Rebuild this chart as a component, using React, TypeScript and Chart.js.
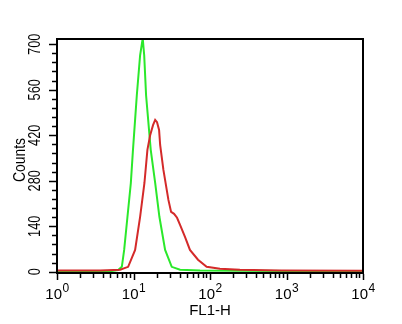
import React, { useEffect, useRef } from 'react';
import { Chart, registerables } from 'chart.js';

Chart.register(...registerables);

// FL1-H channel values (log axis) and counts
const redFL1 = [1, 3.7, 6.7, 8.51, 10.5, 12.2, 13.9, 15.2, 16.5, 18.0, 19.2, 20.3, 21.6, 22.3, 24.6, 28.6, 31.0, 33.9, 37.1, 40.6, 47.1, 54.7, 69.7, 90.4, 135, 246, 818, 10000];
const redCounts = [4, 4, 6, 15, 67, 169, 273, 375, 420, 451, 467, 460, 436, 390, 313, 221, 184, 178, 166, 144, 107, 67, 37, 15, 9, 6, 4, 3];

const greenFL1 = [1, 4.96, 6.3, 7.04, 7.55, 8.34, 9.23, 9.8, 11.05, 12.2, 13.2, 13.8, 14.6, 16.8, 19.2, 21.8, 25.9, 31.6, 40.6, 74, 246, 1000, 10000];
const greenCounts = [0, 1, 5, 15, 67, 169, 273, 368, 543, 666, 718, 666, 543, 375, 273, 169, 67, 15, 6, 4, 3, 2, 1];

const yMajorTicks = [0, 140, 280, 420, 560, 700];
const yMinorStep = 28;
const xDecadeExponents = [0, 1, 2, 3, 4];
const xTitle = 'FL1-H';
const yTitle = 'Counts';

export default function App() {
  const ref = useRef<HTMLCanvasElement>(null);

  useEffect(() => {
    const canvas = ref.current;
    if (!canvas) return;

    const axesPlugin = {
      id: 'facsAxes',
      afterDraw(chart: any) {
        const { ctx, chartArea: a, scales } = chart;
        const xs = scales.x;
        const ys = scales.y;
        ctx.save();
        ctx.strokeStyle = '#000';
        ctx.fillStyle = '#000';
        ctx.lineWidth = 2;
        ctx.strokeRect(a.left, a.top, a.right - a.left, a.bottom - a.top);

        // y ticks
        ctx.lineWidth = 1.5;
        const yMax = yMajorTicks[yMajorTicks.length - 1];
        for (let v = 0; v <= yMax; v += yMinorStep) {
          const py = Math.round(ys.getPixelForValue(v)) + 0.5;
          const len = yMajorTicks.includes(v) ? 7 : 4;
          ctx.beginPath();
          ctx.moveTo(a.left - 1, py);
          ctx.lineTo(a.left - 1 - len, py);
          ctx.stroke();
        }
        // x ticks
        for (let k = 0; k < xDecadeExponents.length; k++) {
          const base = Math.pow(10, xDecadeExponents[k]);
          const last = k === xDecadeExponents.length - 1;
          for (let m = 1; m <= (last ? 1 : 9); m++) {
            const px = Math.round(xs.getPixelForValue(base * m)) + 0.5;
            const len = m === 1 ? 6 : 4;
            ctx.beginPath();
            ctx.moveTo(px, a.bottom + 1);
            ctx.lineTo(px, a.bottom + 1 + len);
            ctx.stroke();
          }
        }

        // y labels (rotated, condensed)
        ctx.font = '16px "Liberation Sans", Arial, sans-serif';
        ctx.textAlign = 'center';
        ctx.textBaseline = 'alphabetic';
        yMajorTicks.forEach((v) => {
          const py = ys.getPixelForValue(v);
          ctx.save();
          ctx.translate(40, py);
          ctx.rotate(-Math.PI / 2);
          ctx.scale(0.8, 1);
          ctx.fillText(String(v), 0, 0);
          ctx.restore();
        });

        // y title
        ctx.font = '17px "Liberation Sans", Arial, sans-serif';
        ctx.save();
        ctx.translate(25, 160);
        ctx.rotate(-Math.PI / 2);
        ctx.scale(0.82, 1);
        ctx.fillText(yTitle, 0, 0);
        ctx.restore();

        // x labels 10^k
        const baseFont = '15px "Liberation Sans", Arial, sans-serif';
        const supFont = '12px "Liberation Sans", Arial, sans-serif';
        ctx.textAlign = 'left';
        xDecadeExponents.forEach((e) => {
          const px = xs.getPixelForValue(Math.pow(10, e));
          ctx.font = baseFont;
          const w1 = ctx.measureText('10').width;
          ctx.font = supFont;
          const w2 = ctx.measureText(String(e)).width;
          const left = px - (w1 + w2) / 2;
          ctx.font = baseFont;
          ctx.fillText('10', left, 299);
          ctx.font = supFont;
          ctx.fillText(String(e), left + w1 + 0.5, 292);
        });

        // x title
        ctx.font = '15px "Liberation Sans", Arial, sans-serif';
        ctx.textAlign = 'center';
        ctx.fillText(xTitle, (a.left + a.right) / 2, 315);
        ctx.restore();
      },
    };

    const chart = new Chart(canvas, {
      type: 'line',
      data: {
        datasets: [
          {
            label: 'stained',
            data: redFL1.map((x, i) => ({ x, y: redCounts[i] })),
            borderColor: '#d42a2a',
            borderWidth: 2,
            pointRadius: 0,
            tension: 0,
            fill: false,
          },
          {
            label: 'control',
            data: greenFL1.map((x, i) => ({ x, y: greenCounts[i] })),
            borderColor: '#2be82b',
            borderWidth: 2,
            pointRadius: 0,
            tension: 0,
            fill: false,
          },
        ],
      },
      options: {
        animation: false,
        responsive: false,
        layout: { padding: { left: 57, top: 39, right: 39, bottom: 51 } },
        plugins: { legend: { display: false }, tooltip: { enabled: false } },
        scales: {
          x: { type: 'logarithmic', min: 1, max: 10000, display: false },
          y: { type: 'linear', min: -4, max: 716, display: false },
        },
      },
      plugins: [axesPlugin],
    });

    return () => chart.destroy();
  }, []);

  return (
    <div style={{ position: 'fixed', left: 0, top: 0, width: 402, height: 324, background: '#fff' }}>
      <canvas ref={ref} width={402} height={324} style={{ display: 'block', width: 402, height: 324 }} />
    </div>
  );
}
